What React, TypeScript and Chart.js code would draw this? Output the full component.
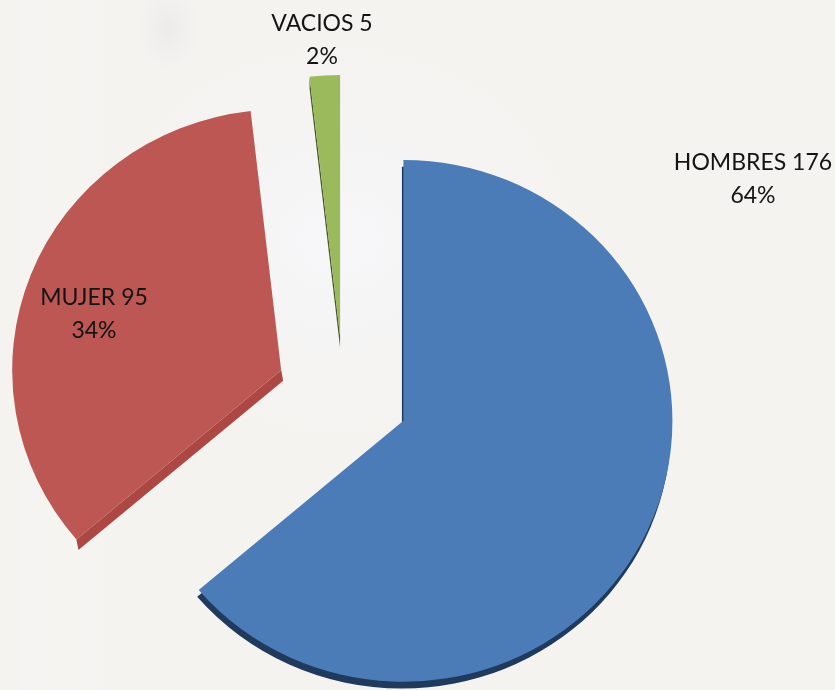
import React, { useEffect, useRef } from "react";
import { Chart, registerables } from "chart.js";

Chart.register(...registerables);

const categories = ["HOMBRES", "MUJER", "VACIOS"];
const counts = [176, 95, 5];
const percents = ["64%", "34%", "2%"];
const sliceColors = ["#4c7cb7", "#bd5753", "#9aba5c"];

const sliceOffsets = [264, 268, 240];
const faceRadius = 269;
const sideStyles = [
  { type: "rim", color: "#1f3a5c", dx: -1.5, dy: 7 },
  { type: "wall", edge: "start", color: "#ad4744", dx: 2, dy: 11 },
  { type: "wall", edge: "start", color: "#465a28", dx: 0, dy: 12 },
];
const labelSpots = [
  { x: 753, y: 163 },
  { x: 94, y: 298 },
  { x: 322, y: 24 },
];

const trueAngles = new WeakMap<object, { start: number; end: number }>();

const pieDepth = {
  id: "pieDepth",
  afterDatasetsUpdate(chart: any) {
    // Chart.js paints an offset arc larger and narrower than its value: cancel both so every face keeps its radius and angle.
    chart.getDatasetMeta(0).data.forEach((arc: any) => {
      const start = arc.startAngle;
      const end = arc.endAngle;
      trueAngles.set(arc, { start, end });
      const off = (arc.options.offset || 0) / 4;
      const fix = 1 - Math.sin(Math.min(Math.PI, arc.circumference || 0));
      const radiusGrowth = off * fix;
      const widen = radiusGrowth / (Math.PI * faceRadius) / 2;
      arc.outerRadius = faceRadius - radiusGrowth;
      arc.startAngle = start - widen;
      arc.endAngle = end + widen;
    });
  },
  beforeDatasetsDraw(chart: any) {
    const ctx = chart.ctx;
    const arcs = chart.getDatasetMeta(0).data;
    const cy = (chart.chartArea.top + chart.chartArea.bottom) / 2;
    ctx.save();
    ctx.translate(0, cy);
    ctx.scale(1, 0.97);
    ctx.translate(0, -cy);
    arcs.forEach((arc: any, i: number) => {
      const a = trueAngles.get(arc)!;
      const half = (a.start + a.end) / 2;
      const d = (arc.options.offset || 0) / 4;
      const ax = arc.x + Math.cos(half) * d;
      const ay = arc.y + Math.sin(half) * d;
      const s: any = sideStyles[i];
      ctx.fillStyle = s.color;
      ctx.beginPath();
      if (s.type === "rim") {
        ctx.moveTo(ax + s.dx, ay + s.dy);
        ctx.arc(ax + s.dx, ay + s.dy, faceRadius, a.start, a.end);
      } else {
        const qx = ax + Math.cos(a.start) * faceRadius;
        const qy = ay + Math.sin(a.start) * faceRadius;
        ctx.moveTo(ax, ay);
        ctx.lineTo(qx, qy);
        ctx.lineTo(qx + s.dx, qy + s.dy);
        ctx.lineTo(ax + s.dx, ay + s.dy);
      }
      ctx.closePath();
      ctx.fill();
    });
  },
  afterDatasetsDraw(chart: any) {
    chart.ctx.restore();
    const ctx = chart.ctx;
    ctx.save();
    ctx.font = '23px Lato, "Open Sans", sans-serif';
    ctx.fillStyle = "#141414";
    ctx.textAlign = "center";
    ctx.textBaseline = "middle";
    categories.forEach((c, i) => {
      ctx.fillText(`${c} ${counts[i]}`, labelSpots[i].x, labelSpots[i].y);
      ctx.fillText(percents[i], labelSpots[i].x, labelSpots[i].y + 33);
    });
    ctx.restore();
  },
};

const backdrop = [
  "radial-gradient(ellipse 30px 42px at 168px 28px, rgba(218,218,218,0.3), rgba(218,218,218,0) 100%)",
  "radial-gradient(ellipse 240px 200px at 340px 240px, rgba(247,246,249,0.95), rgba(247,246,249,0) 100%)",
  "linear-gradient(90deg, rgba(255,255,255,0) 0px, rgba(255,255,255,0.12) 60px, rgba(255,255,255,0) 120px)",
].join(",");

export default function App() {
  const ref = useRef<HTMLCanvasElement>(null);
  useEffect(() => {
    const chart = new Chart(ref.current!, {
      type: "pie",
      data: {
        labels: categories,
        datasets: [
          {
            data: counts,
            backgroundColor: sliceColors,
            borderWidth: 0,
            offset: sliceOffsets,
            radius: faceRadius,
            clip: false,
          } as any,
        ],
      },
      options: {
        responsive: false,
        animation: false,
        layout: { padding: { left: 0, right: 148, top: 98, bottom: 0 } },
        plugins: { legend: { display: false }, tooltip: { enabled: false } },
      },
      plugins: [pieDepth],
    });
    return () => chart.destroy();
  }, []);
  return (
    <div
      style={{
        position: "absolute",
        left: 0,
        top: 0,
        width: 835,
        height: 690,
        overflow: "hidden",
        backgroundColor: "#f4f3f0",
        backgroundImage: backdrop,
      }}
    >
      <canvas ref={ref} width={835} height={690} style={{ display: "block" }} />
    </div>
  );
}
